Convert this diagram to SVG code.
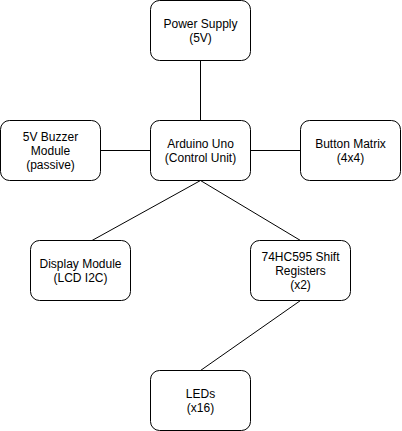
<svg xmlns="http://www.w3.org/2000/svg" width="402" height="431" viewBox="0 0 402 431">
<style>
.n{fill:#fff;stroke:#000;stroke-width:1}
.t{font-family:"Liberation Sans",Arial,sans-serif;font-size:12px;fill:#000;text-anchor:middle}
.e{stroke:#000;stroke-width:1;fill:none}
</style>
<rect width="402" height="431" fill="#fff"/>
<g id="connectors">
<path class="e" d="M200.5 60.5V120.5"/>
<path class="e" d="M100.5 150.5H150.5"/>
<path class="e" d="M250.5 150.5H300.5"/>
<path class="e" d="M200.5 180.5L92 240.5"/>
<path class="e" d="M200.5 180.5L300.5 240.5"/>
<path class="e" d="M300.5 300.5L200.5 370.5"/>
</g>
<g id="power">
<rect class="n" x="150.5" y="0.5" width="100" height="60" rx="9"/>
<text class="t" x="200.5" y="27.5">Power Supply</text>
<text class="t" x="200.5" y="41.5">(5V)</text>
</g>
<g id="arduino">
<rect class="n" x="150.5" y="120.5" width="100" height="60" rx="9"/>
<text class="t" x="200.5" y="147.5">Arduino Uno</text>
<text class="t" x="200.5" y="161.5">(Control Unit)</text>
</g>
<g id="buzzer">
<rect class="n" x="0.5" y="120.5" width="100" height="60" rx="9"/>
<text class="t" x="50.5" y="140.5">5V Buzzer</text>
<text class="t" x="50.5" y="154.5">Module</text>
<text class="t" x="50.5" y="168.5">(passive)</text>
</g>
<g id="buttons">
<rect class="n" x="300.5" y="120.5" width="100" height="60" rx="9"/>
<text class="t" x="350.5" y="147.5">Button Matrix</text>
<text class="t" x="350.5" y="161.5">(4x4)</text>
</g>
<g id="display">
<rect class="n" x="30.5" y="240.5" width="100" height="60" rx="9"/>
<text class="t" x="80.5" y="267.5">Display Module</text>
<text class="t" x="80.5" y="281.5">(LCD I2C)</text>
</g>
<g id="shift">
<rect class="n" x="250.5" y="240.5" width="100" height="60" rx="9"/>
<text class="t" x="300.5" y="260.5">74HC595 Shift</text>
<text class="t" x="300.5" y="274.5">Registers</text>
<text class="t" x="300.5" y="288.5">(x2)</text>
</g>
<g id="leds">
<rect class="n" x="150.5" y="370.5" width="100" height="60" rx="9"/>
<text class="t" x="200.5" y="397.5">LEDs</text>
<text class="t" x="200.5" y="411.5">(x16)</text>
</g>
</svg>
